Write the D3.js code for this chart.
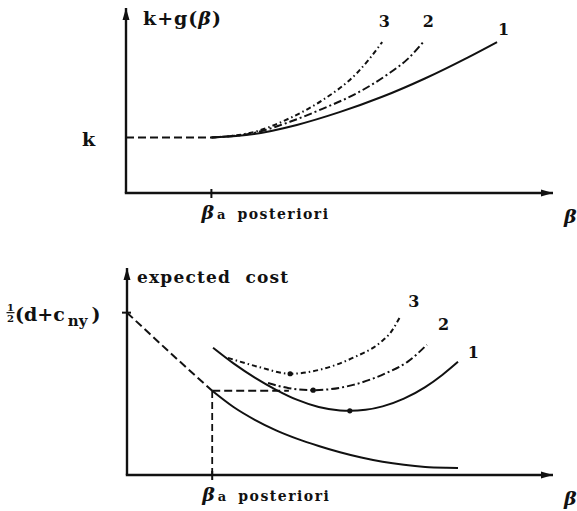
<!DOCTYPE html>
<html>
<head>
<meta charset="utf-8">
<script src="https://cdn.jsdelivr.net/npm/d3@7/dist/d3.min.js"></script>
<style>
  html, body { margin: 0; padding: 0; background: #fff; }
  svg { display: block; }
  text { font-family: "DejaVu Serif", "Liberation Serif", serif; font-weight: bold; fill: #111; }
</style>
</head>
<body>
<svg id="chart" width="577" height="511"></svg>
<script>
// ---- data (beta, value) ----
const betaA = 2;          // a posteriori reliability index
const kLevel = 3;         // level k
const halfCost = 8;       // ½(d + c_ny)

// upper panel: k + g(beta) for three cases
const gDashed = [[0, 3], [2, 3]];
const g1 = [[2, 3.0], [3, 3.19], [4, 3.68], [5, 4.37], [6, 5.2], [7, 6.19], [8, 7.32], [8.69, 8.16]];
const g2 = [[2, 3.0], [3, 3.25], [3.84, 3.85], [4.6, 4.55], [5.41, 5.4], [6.18, 6.5], [6.6, 7.25], [6.96, 8.16]];
const g3 = [[2, 3.0], [3, 3.3], [3.84, 4.05], [4.61, 5.03], [5.41, 6.49], [5.7, 7.25], [6.0, 8.16]];
const topLabels = [["3", 5.92, 8.97], ["2", 6.95, 8.97], ["1", 8.71, 8.54]];

// lower panel: expected cost
const costDashed = [[0, 8], [1, 6.05], [2, 4.15]];
const costBase = [[2, 4.15], [2.5, 3.35], [3, 2.72], [3.5, 2.2], [4, 1.78], [4.5, 1.43], [5, 1.12], [5.5, 0.86], [6, 0.65], [6.5, 0.5], [7, 0.4], [7.5, 0.36], [7.77, 0.35]];
const cost1 = [[2.02, 6.27], [2.5, 5.5], [3, 4.8], [3.5, 4.2], [4, 3.7], [4.5, 3.35], [5, 3.18], [5.23, 3.16], [5.6, 3.21], [6, 3.38], [6.5, 3.76], [7, 4.33], [7.4, 4.93], [7.77, 5.58]];
const cost2 = [[3.31, 4.53], [3.8, 4.28], [4.37, 4.18], [5.31, 4.44], [6.1, 5.04], [6.6, 5.6], [7.04, 6.42]];
const cost3 = [[2.37, 5.77], [3.1, 5.32], [3.83, 4.99], [4.53, 5.19], [5.31, 5.78], [5.94, 6.52], [6.2, 7.05], [6.41, 7.8]];
const minima = [[5.23, 3.16], [4.37, 4.18], [3.83, 4.99]];
const optimumLine = [[2, 4.15], [3.8, 4.15]];
const botLabels = [["3", 6.6, 8.28], ["2", 7.3, 7.15], ["1", 8.0, 5.77]];

const svg = d3.select("#chart");
const ink = "#111";

svg.append("defs").append("marker")
  .attr("id", "arrow")
  .attr("viewBox", "0 0 12 8")
  .attr("refX", 12).attr("refY", 4)
  .attr("markerWidth", 12).attr("markerHeight", 8)
  .attr("markerUnits", "userSpaceOnUse")
  .attr("orient", "auto")
  .append("path").attr("d", "M0,0.5 L12,4 L0,7.5 Z").attr("fill", ink);

const styles = {
  solid: null,
  dashed: "8,4",
  dash2: "8,3,2,3",
  dash3: "5,3,1.5,3"
};

function panel(xs, ys) {
  const g = svg.append("g");
  const line = d3.line().x(d => xs(d[0])).y(d => ys(d[1])).curve(d3.curveMonotoneX);
  return {
    g,
    curve(data, style, w = 2) {
      g.append("path").datum(data).attr("d", line)
        .attr("fill", "none").attr("stroke", ink).attr("stroke-width", w)
        .attr("stroke-dasharray", styles[style]).attr("stroke-linecap", "butt");
    },
    axes(yTop, xEnd) {
      g.append("line").attr("x1", xs(0)).attr("y1", ys(0)).attr("x2", xs(0)).attr("y2", ys(yTop))
        .attr("stroke", ink).attr("stroke-width", 2.4).attr("marker-end", "url(#arrow)");
      g.append("line").attr("x1", xs(0) - 1.2).attr("y1", ys(0)).attr("x2", xs(xEnd)).attr("y2", ys(0))
        .attr("stroke", ink).attr("stroke-width", 2.4).attr("marker-end", "url(#arrow)");
      g.append("line").attr("x1", xs(betaA)).attr("x2", xs(betaA)).attr("y1", ys(0) - 4).attr("y2", ys(0) + 5)
        .attr("stroke", ink).attr("stroke-width", 2);
    },
    betaLabel() {
      const t = g.append("text").attr("x", xs(betaA) - 10).attr("y", ys(0) + 26).attr("font-size", 19);
      t.append("tspan").text("β").attr("font-style", "italic");
      t.append("tspan").text("a").attr("font-size", 13).attr("dx", 3);
      t.append("tspan").text("posteriori").attr("font-size", 14).attr("dx", 12).attr("letter-spacing", 1.5);
      g.append("text").attr("x", 564).attr("y", ys(0) + 30).attr("font-size", 19)
        .attr("font-style", "italic").text("β");
    },
    labels(list) {
      g.selectAll(null).data(list).enter().append("text")
        .attr("x", d => xs(d[1])).attr("y", d => ys(d[2]))
        .attr("font-size", 16).attr("font-family", "DejaVu Sans").text(d => d[0]);
    },
    dots(list) {
      g.selectAll(null).data(list).enter().append("circle")
        .attr("cx", d => xs(d[0])).attr("cy", d => ys(d[1])).attr("r", 2.6).attr("fill", ink);
    }
  };
}

// ---- upper panel ----
const xT = d3.scaleLinear([0, 10], [126, 553]);
const yT = d3.scaleLinear([0, 10], [193, 8]);
const upper = panel(xT, yT);
upper.axes(10, 10);
upper.curve(gDashed, "dashed");
upper.curve(g3, "dash3");
upper.curve(g2, "dash2");
upper.curve(g1, "solid");
upper.betaLabel();
upper.labels(topLabels);
upper.g.append("text").attr("x", 143).attr("y", 25).attr("font-size", 19).attr("letter-spacing", 1)
  .call(t => { t.append("tspan").text("k+g("); t.append("tspan").text("β").attr("font-style", "italic"); t.append("tspan").text(")"); });
upper.g.append("text").attr("x", 82).attr("y", yT(kLevel) + 8).attr("font-size", 19).text("k");

// ---- lower panel ----
const xB = d3.scaleLinear([0, 10], [127, 553]);
const yB = d3.scaleLinear([0, 10.2], [475, 268]);
const lower = panel(xB, yB);
lower.axes(10.2, 10);
lower.curve(costDashed, "dashed");
lower.curve(optimumLine, "dashed");
lower.g.append("line").attr("x1", xB(betaA)).attr("x2", xB(betaA)).attr("y1", yB(0)).attr("y2", yB(4.15))
  .attr("stroke", ink).attr("stroke-width", 1.8).attr("stroke-dasharray", "7,4");
lower.g.append("line").attr("x1", xB(0) - 5).attr("x2", xB(0) + 4).attr("y1", yB(halfCost)).attr("y2", yB(halfCost))
  .attr("stroke", ink).attr("stroke-width", 2);
lower.curve(costBase, "solid");
lower.curve(cost3, "dash3");
lower.curve(cost2, "dash2");
lower.curve(cost1, "solid");
lower.dots(minima);
lower.betaLabel();
lower.labels(botLabels);
lower.g.append("text").attr("x", 137).attr("y", 283).attr("font-size", 17).attr("letter-spacing", 1.2)
  .text("expected  cost").attr("xml:space", "preserve").style("white-space", "pre");

// ½(d+c_ny) with a stacked fraction
const yh = yB(halfCost);
lower.g.append("text").attr("x", 10.5).attr("y", yh - 2).attr("font-size", 10).attr("text-anchor", "middle").text("1");
lower.g.append("line").attr("x1", 6.5).attr("x2", 14.5).attr("y1", yh).attr("y2", yh).attr("stroke", ink).attr("stroke-width", 1.2);
lower.g.append("text").attr("x", 10.5).attr("y", yh + 9).attr("font-size", 10).attr("text-anchor", "middle").text("2");
const hc = lower.g.append("text").attr("x", 15).attr("y", yh + 8).attr("font-size", 19);
hc.append("tspan").text("(d+c");
hc.append("tspan").text("ny").attr("font-size", 15).attr("dx", 3).attr("dy", 5);
hc.append("tspan").text(")").attr("dx", 4).attr("dy", -5);
</script>
</body>
</html>
